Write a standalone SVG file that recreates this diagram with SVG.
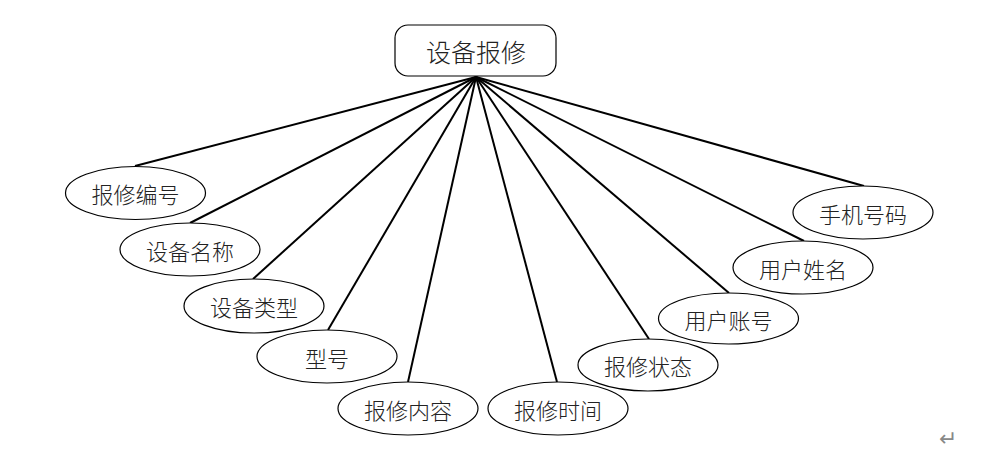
<svg xmlns="http://www.w3.org/2000/svg" width="989" height="450" viewBox="0 0 989 450">
<style>
.e{fill:#fff;stroke:#000;stroke-width:1.2}
.t{font-family:"Noto Sans CJK SC",sans-serif;font-weight:300;font-size:22px;fill:#222;text-anchor:middle;dominant-baseline:central}
.c line{stroke:#000;stroke-width:2}
</style>
<rect width="989" height="450" fill="#fff"/>
<g class="c" id="connectors">
<line x1="476" y1="77" x2="135" y2="166"/>
<line x1="476" y1="77" x2="190" y2="223"/>
<line x1="476" y1="77" x2="253" y2="279"/>
<line x1="476" y1="77" x2="328" y2="330"/>
<line x1="476" y1="77" x2="408" y2="382"/>
<line x1="476" y1="77" x2="557" y2="382"/>
<line x1="476" y1="77" x2="649" y2="339"/>
<line x1="476" y1="77" x2="729" y2="293"/>
<line x1="476" y1="77" x2="804" y2="241"/>
<line x1="476" y1="77" x2="864" y2="186"/>
</g>
<g id="root"><rect x="395" y="25" width="161" height="51" rx="13" class="e"/><text x="476" y="51" class="t" style="font-size:25px">设备报修</text></g>
<g id="n1"><ellipse cx="135.5" cy="193" rx="70" ry="26.5" class="e"/><text x="135.5" y="193" class="t">报修编号</text></g>
<g id="n2"><ellipse cx="190" cy="249.5" rx="70" ry="26.5" class="e"/><text x="190" y="249.5" class="t">设备名称</text></g>
<g id="n3"><ellipse cx="254" cy="306" rx="70" ry="27" class="e"/><text x="254" y="306" class="t">设备类型</text></g>
<g id="n4"><ellipse cx="327" cy="356.5" rx="70" ry="26.5" class="e"/><text x="327" y="356.5" class="t">型号</text></g>
<g id="n5"><ellipse cx="408" cy="408.5" rx="70" ry="26.5" class="e"/><text x="408" y="408.5" class="t">报修内容</text></g>
<g id="n6"><ellipse cx="558" cy="408.5" rx="70" ry="26.5" class="e"/><text x="558" y="408.5" class="t">报修时间</text></g>
<g id="n7"><ellipse cx="648" cy="365" rx="70" ry="26" class="e"/><text x="648" y="365" class="t">报修状态</text></g>
<g id="n8"><ellipse cx="728.5" cy="318.5" rx="70" ry="25.5" class="e"/><text x="728.5" y="318.5" class="t">用户账号</text></g>
<g id="n9"><ellipse cx="803" cy="267.5" rx="70" ry="26.5" class="e"/><text x="803" y="267.5" class="t">用户姓名</text></g>
<g id="n10"><ellipse cx="863" cy="212.5" rx="70" ry="26.5" class="e"/><text x="863" y="212.5" class="t">手机号码</text></g>
<text x="948" y="438" style="font-family:'DejaVu Sans',sans-serif;font-size:22px;fill:#888;text-anchor:middle;dominant-baseline:central">↵</text>
</svg>
